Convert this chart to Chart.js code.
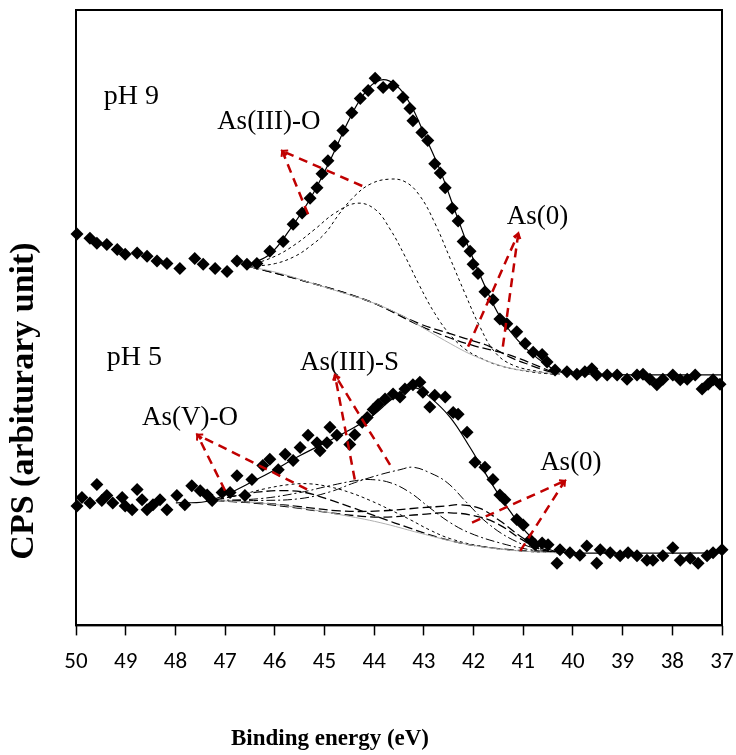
<!DOCTYPE html>
<html>
<head>
<meta charset="utf-8">
<script src="https://cdn.jsdelivr.net/npm/chart.js@4.4.1/dist/chart.umd.min.js"></script>
<style>
  html, body { margin: 0; padding: 0; background: #fff; }
  #wrap { width: 736px; height: 755px; }
</style>
</head>
<body>
<div id="wrap"><canvas id="xps" width="736" height="755"></canvas></div>
<script>
// Binding energy (eV) and intensity (arbitrary units)

// pH 9 measured points
const ph9Energy = [49.98, 49.72, 49.58, 49.38, 49.17, 49.01, 48.77, 48.57, 48.37, 48.17, 47.91, 47.61, 47.44, 47.20, 46.96, 46.76, 46.56, 46.36, 46.10, 45.83, 45.63, 45.45, 45.29, 45.15, 45.05, 44.93, 44.79, 44.63, 44.45, 44.28, 44.12, 43.98, 43.82, 43.62, 43.42, 43.28, 43.22, 43.04, 42.92, 42.78, 42.67, 42.57, 42.43, 42.31, 42.21, 42.07, 42.01, 41.91, 41.77, 41.61, 41.47, 41.33, 41.13, 40.96, 40.80, 40.62, 40.52, 40.36, 40.12, 39.92, 39.76, 39.62, 39.52, 39.31, 39.11, 38.91, 38.71, 38.59, 38.45, 38.31, 38.19, 37.99, 37.84, 37.70, 37.54, 37.40, 37.28, 37.18, 37.04];
const ph9Counts = [63.6, 62.9, 62.1, 61.9, 61.1, 60.3, 60.5, 60.0, 59.2, 58.8, 58.0, 59.6, 58.7, 58.0, 57.5, 59.2, 58.7, 58.8, 60.8, 62.4, 65.2, 67.0, 69.4, 71.1, 73.4, 75.5, 77.9, 80.4, 83.3, 85.6, 86.9, 88.9, 87.4, 87.7, 85.8, 84.0, 82.0, 80.1, 78.8, 75.0, 73.5, 71.1, 67.8, 65.7, 62.4, 60.8, 58.7, 57.2, 54.2, 52.9, 49.8, 49.0, 47.7, 45.8, 44.4, 44.0, 42.8, 41.5, 41.2, 40.8, 41.2, 41.7, 40.7, 40.7, 40.7, 40.0, 40.7, 40.8, 40.0, 39.1, 40.0, 40.7, 39.9, 40.0, 40.7, 38.4, 39.2, 39.9, 39.2];

// pH 9 fitted envelope, background and components
const ph9FitEnergy = [46.50, 46.10, 45.69, 45.29, 44.89, 44.49, 44.18, 43.88, 43.58, 43.28, 42.98, 42.67, 42.37, 42.07, 41.77, 41.47, 41.17, 40.86, 40.56, 40.26, 39.45, 37.00];
const ph9FitCounts = [58.7, 60.3, 64.4, 69.3, 75.5, 82.4, 86.6, 88.6, 87.9, 84.8, 79.6, 73.9, 67.3, 60.8, 55.1, 50.2, 46.9, 44.4, 42.5, 41.2, 40.8, 40.7];
const ph9BgEnergy = [46.50, 45.89, 45.29, 44.69, 44.08, 43.48, 42.88, 42.47, 42.07, 41.67, 41.27, 40.86, 40.46, 40.26];
const ph9BgCounts = [58.3, 57.2, 55.7, 54.2, 52.6, 50.5, 47.7, 45.8, 44.1, 42.8, 41.8, 41.3, 41.0, 40.8];
const ph9AsO1Energy = [46.50, 45.99, 45.59, 45.19, 44.79, 44.35, 43.98, 43.68, 43.38, 43.08, 42.78, 42.47, 42.17, 41.87, 41.47, 40.86, 40.36];
const ph9AsO1Counts = [58.5, 60.0, 61.9, 64.4, 67.0, 68.6, 67.6, 64.4, 60.0, 55.1, 50.7, 47.2, 44.9, 43.5, 42.2, 41.2, 40.8];
const ph9AsO2Energy = [46.50, 45.99, 45.59, 45.29, 44.99, 44.69, 44.39, 44.08, 43.72, 43.38, 43.08, 42.78, 42.47, 42.17, 41.87, 41.57, 41.21, 40.66, 40.36];
const ph9AsO2Counts = [58.3, 58.8, 60.0, 61.6, 63.7, 67.0, 69.8, 71.7, 72.5, 72.1, 69.8, 65.4, 59.6, 53.9, 48.5, 44.4, 42.3, 41.2, 40.8];
const ph9As0aEnergy = [46.50, 45.29, 44.08, 43.08, 42.47, 42.07, 41.67, 41.27, 40.86, 40.46, 40.26];
const ph9As0aCounts = [58.3, 55.7, 52.6, 49.0, 47.4, 46.4, 45.3, 43.6, 42.3, 41.2, 40.8];
const ph9As0bEnergy = [46.50, 45.29, 44.08, 43.08, 42.47, 41.97, 41.47, 41.06, 40.66, 40.36];
const ph9As0bCounts = [58.3, 55.7, 52.6, 48.7, 46.7, 45.4, 44.4, 43.3, 42.0, 41.0];

// pH 5 measured points
const ph5Energy = [49.98, 49.88, 49.72, 49.58, 49.48, 49.38, 49.26, 49.07, 49.01, 48.87, 48.77, 48.67, 48.57, 48.45, 48.31, 48.17, 47.97, 47.81, 47.67, 47.50, 47.36, 47.26, 47.06, 46.90, 46.76, 46.60, 46.46, 46.24, 46.10, 45.93, 45.79, 45.63, 45.49, 45.33, 45.15, 45.09, 44.95, 44.89, 44.75, 44.49, 44.39, 44.24, 44.14, 44.02, 43.92, 43.78, 43.62, 43.48, 43.38, 43.22, 43.08, 43.02, 42.88, 42.78, 42.57, 42.41, 42.31, 42.13, 41.97, 41.77, 41.61, 41.47, 41.37, 41.13, 41.00, 40.86, 40.76, 40.62, 40.50, 40.32, 40.26, 40.06, 39.86, 39.72, 39.52, 39.45, 39.25, 39.05, 38.89, 38.71, 38.51, 38.39, 38.19, 37.99, 37.84, 37.64, 37.48, 37.30, 37.18, 37.00];
const ph5Counts = [19.4, 20.8, 19.9, 22.9, 20.3, 21.1, 19.9, 20.8, 19.4, 18.8, 22.1, 20.4, 18.8, 19.6, 20.4, 18.8, 21.1, 19.6, 22.7, 21.9, 21.2, 20.3, 21.6, 21.6, 24.3, 21.1, 23.7, 26.0, 27.0, 25.3, 27.8, 26.8, 28.9, 30.9, 29.7, 28.4, 29.7, 32.2, 30.9, 29.4, 31.0, 33.0, 33.8, 35.1, 35.9, 36.8, 37.6, 37.1, 38.4, 39.1, 39.5, 37.9, 35.5, 37.4, 37.1, 34.6, 34.3, 31.4, 26.5, 25.7, 23.7, 21.2, 20.4, 17.2, 16.3, 13.9, 13.1, 13.4, 13.1, 10.1, 12.3, 11.8, 11.4, 12.9, 10.1, 12.3, 11.8, 11.3, 11.8, 11.3, 10.6, 10.6, 11.3, 12.6, 10.6, 10.9, 10.1, 11.3, 11.8, 12.3];

// pH 5 fitted envelope, background and components
const ph5FitEnergy = [47.99, 47.30, 46.30, 45.49, 44.69, 44.08, 43.58, 43.18, 42.88, 42.47, 42.07, 41.67, 41.27, 40.86, 40.46, 40.06, 37.00];
const ph5FitCounts = [19.9, 20.3, 24.0, 27.6, 30.9, 33.8, 37.1, 38.6, 37.1, 33.8, 28.9, 23.5, 18.6, 14.5, 12.3, 11.8, 11.8];
const ph5BgEnergy = [47.20, 46.30, 45.49, 44.69, 43.88, 43.08, 42.27, 41.47, 40.66, 40.26];
const ph5BgCounts = [20.3, 19.9, 19.1, 18.0, 16.7, 15.0, 13.4, 12.4, 11.9, 11.8];
const ph5AsV1Energy = [47.20, 46.70, 46.20, 45.69, 45.29, 44.89, 44.49, 44.08, 43.68, 43.28, 42.88, 42.47, 41.87, 41.06, 40.26];
const ph5AsV1Counts = [20.4, 21.2, 22.2, 22.9, 23.0, 22.5, 21.6, 20.3, 18.8, 17.2, 15.5, 14.1, 12.9, 12.1, 11.8];
const ph5AsV2Energy = [47.20, 46.70, 46.30, 45.79, 45.39, 44.89, 44.39, 43.88, 43.28, 42.67, 42.07, 41.27, 40.26];
const ph5AsV2Counts = [20.4, 21.2, 21.7, 21.9, 21.6, 20.4, 19.0, 17.5, 15.8, 14.2, 13.1, 12.3, 11.8];
const ph5AsS1Energy = [47.20, 46.30, 45.49, 44.89, 44.39, 43.88, 43.48, 43.22, 42.88, 42.53, 42.13, 41.73, 41.21, 40.66, 40.26];
const ph5AsS1Counts = [20.3, 20.3, 20.6, 21.7, 23.2, 24.5, 25.3, 25.7, 24.8, 23.2, 19.9, 16.7, 13.9, 12.3, 11.8];
const ph5AsS2Energy = [47.20, 46.30, 45.49, 44.89, 44.39, 44.08, 43.68, 43.28, 42.88, 42.47, 42.07, 41.47, 40.86, 40.26];
const ph5AsS2Counts = [20.3, 20.6, 21.6, 22.7, 23.5, 23.7, 23.2, 21.6, 19.1, 16.7, 15.0, 13.4, 12.3, 11.8];
const ph5As0aEnergy = [47.20, 46.30, 45.49, 44.69, 43.88, 43.08, 42.57, 42.27, 41.87, 41.47, 41.06, 40.66, 40.26];
const ph5As0aCounts = [20.3, 19.9, 19.3, 18.6, 18.6, 19.1, 19.4, 19.6, 19.0, 17.0, 14.5, 12.6, 11.8];
const ph5As0bEnergy = [47.20, 46.30, 45.49, 44.69, 43.88, 43.08, 42.47, 41.87, 41.47, 41.06, 40.66, 40.26];
const ph5As0bCounts = [20.3, 19.8, 19.0, 18.1, 17.6, 18.0, 18.3, 17.6, 16.3, 14.1, 12.4, 11.8];

// axis range
const energyMin = 37;
const energyMax = 50;

// text labels, in data coordinates (eV, intensity)
const panelLabels = [
    { text: "pH 9", x: 49.44, y: 84.8 },
    { text: "pH 5", x: 49.38, y: 42.3 }
];
// each callout: label position, apex of the arrows, and the two arrow tails
const callouts = [
    { text: "As(III)-O", x: 47.16, y: 80.6, apex: [45.85, 77.1], tails: [[45.33, 66.8], [44.24, 71.4]] },
    { text: "As(0)", x: 41.33, y: 65.2, apex: [41.10, 63.7], tails: [[42.11, 45.3], [41.41, 45.3]] },
    { text: "As(V)-O", x: 48.67, y: 32.5, apex: [47.56, 31.0], tails: [[47.00, 21.9], [45.35, 22.1]] },
    { text: "As(III)-S", x: 45.49, y: 41.5, apex: [44.79, 40.7], tails: [[44.39, 23.7], [43.68, 26.1]] },
    { text: "As(0)", x: 40.66, y: 25.3, apex: [40.16, 23.5], tails: [[42.03, 16.7], [41.06, 12.1]] }
];

function pairs(xs, ys) {
    return xs.map((x, i) => ({ x: x, y: ys[i] }));
}

function points(xs, ys) {
    return {
        data: pairs(xs, ys),
        showLine: false,
        pointStyle: 'rectRot',
        pointRadius: 6.5,
        pointBackgroundColor: '#000',
        pointBorderWidth: 0,
        clip: false,
        order: 0
    };
}

function curve(xs, ys, dash, color, width) {
    return {
        data: pairs(xs, ys),
        showLine: true,
        pointRadius: 0,
        borderColor: color || '#000',
        borderWidth: width || 1,
        borderDash: dash || [],
        tension: 0.4,
        fill: false,
        order: 1
    };
}

const SHORT = [3, 3];
const LONG = [9, 4];
const DASHDOT = [9, 3, 2, 3];

const serif = "'Liberation Serif', 'Times New Roman', serif";

const annotate = {
    id: 'annotate',
    afterDatasetsDraw(chart) {
        const ctx = chart.ctx;
        const xs = chart.scales.x;
        const ys = chart.scales.y;
        ctx.save();
        ctx.fillStyle = '#000';
        ctx.textBaseline = 'alphabetic';
        ctx.textAlign = 'left';
        ctx.font = "28px " + serif;
        panelLabels.forEach(l => {
            ctx.fillText(l.text, xs.getPixelForValue(l.x), ys.getPixelForValue(l.y));
        });
        ctx.font = "27px " + serif;
        callouts.forEach(c => {
            ctx.fillStyle = '#000';
            ctx.fillText(c.text, xs.getPixelForValue(c.x), ys.getPixelForValue(c.y));
            const ax = xs.getPixelForValue(c.apex[0]);
            const ay = ys.getPixelForValue(c.apex[1]);
            ctx.strokeStyle = '#c00000';
            ctx.lineWidth = 2.5;
            c.tails.forEach(t => {
                const tx = xs.getPixelForValue(t[0]);
                const ty = ys.getPixelForValue(t[1]);
                ctx.setLineDash([9, 6]);
                ctx.beginPath();
                ctx.moveTo(tx, ty);
                ctx.lineTo(ax, ay);
                ctx.stroke();
                // small arrow head at the apex
                const ang = Math.atan2(ay - ty, ax - tx);
                ctx.setLineDash([]);
                ctx.lineWidth = 2;
                ctx.beginPath();
                ctx.moveTo(ax - 6 * Math.cos(ang - 0.5), ay - 6 * Math.sin(ang - 0.5));
                ctx.lineTo(ax, ay);
                ctx.lineTo(ax - 6 * Math.cos(ang + 0.5), ay - 6 * Math.sin(ang + 0.5));
                ctx.stroke();
                ctx.lineWidth = 2.5;
            });
        });
        ctx.restore();
    },
    afterDraw(chart) {
        const ctx = chart.ctx;
        const a = chart.chartArea;
        ctx.save();
        // frame round the plot
        ctx.strokeStyle = '#000';
        ctx.lineWidth = 2;
        ctx.strokeRect(a.left, a.top, a.right - a.left, a.bottom - a.top);
        // axis titles
        ctx.fillStyle = '#000';
        ctx.textAlign = 'center';
        ctx.textBaseline = 'middle';
        ctx.font = "bold 23px " + serif;
        ctx.fillText("Binding energy (eV)", 330, 739);
        ctx.translate(24, 401);
        ctx.rotate(-Math.PI / 2);
        ctx.font = "bold 34px " + serif;
        ctx.fillText("CPS (arbiturary unit)", 0, 0);
        ctx.restore();
    }
};

new Chart(document.getElementById('xps'), {
    type: 'scatter',
    data: {
        datasets: [
            points(ph9Energy, ph9Counts),
            points(ph5Energy, ph5Counts),
            curve(ph9FitEnergy, ph9FitCounts, [], '#000', 1.2),
            curve(ph9BgEnergy, ph9BgCounts, [], '#b0b0b0', 1),
            curve(ph9AsO1Energy, ph9AsO1Counts, SHORT),
            curve(ph9AsO2Energy, ph9AsO2Counts, SHORT),
            curve(ph9As0aEnergy, ph9As0aCounts, LONG, '#000', 1.3),
            curve(ph9As0bEnergy, ph9As0bCounts, LONG, '#000', 1.3),
            curve(ph5FitEnergy, ph5FitCounts, [], '#000', 1.2),
            curve(ph5BgEnergy, ph5BgCounts, [], '#b0b0b0', 1),
            curve(ph5AsV1Energy, ph5AsV1Counts, SHORT),
            curve(ph5AsV2Energy, ph5AsV2Counts, LONG, '#000', 1.3),
            curve(ph5AsS1Energy, ph5AsS1Counts, DASHDOT),
            curve(ph5AsS2Energy, ph5AsS2Counts, DASHDOT),
            curve(ph5As0aEnergy, ph5As0aCounts, LONG, '#000', 1.3),
            curve(ph5As0bEnergy, ph5As0bCounts, LONG, '#000', 1.3)
        ]
    },
    options: {
        responsive: false,
        devicePixelRatio: 1,
        animation: false,
        layout: { padding: { left: 76, right: 14, top: 10, bottom: 66 } },
        plugins: {
            legend: { display: false },
            tooltip: { enabled: false }
        },
        scales: {
            x: {
                type: 'linear',
                reverse: true,
                min: energyMin,
                max: energyMax,
                // labels at the ends may overhang the frame, as in the figure
                afterFit(scale) {
                    scale.paddingLeft = 0;
                    scale.paddingRight = 0;
                },
                border: { display: true, color: '#000', width: 2 },
                grid: {
                    display: true,
                    drawOnChartArea: false,
                    drawTicks: true,
                    tickLength: 10,
                    tickColor: '#000',
                    tickWidth: 1.5
                },
                ticks: {
                    stepSize: 1,
                    autoSkip: false,
                    maxRotation: 0,
                    padding: 13,
                    color: '#000',
                    font: { family: "Carlito, 'Liberation Sans Narrow', 'DejaVu Sans Condensed', 'Noto Sans', sans-serif", size: 23 }
                }
            },
            y: {
                display: false,
                min: 0,
                max: 100
            }
        }
    },
    plugins: [annotate]
});
</script>
</body>
</html>
